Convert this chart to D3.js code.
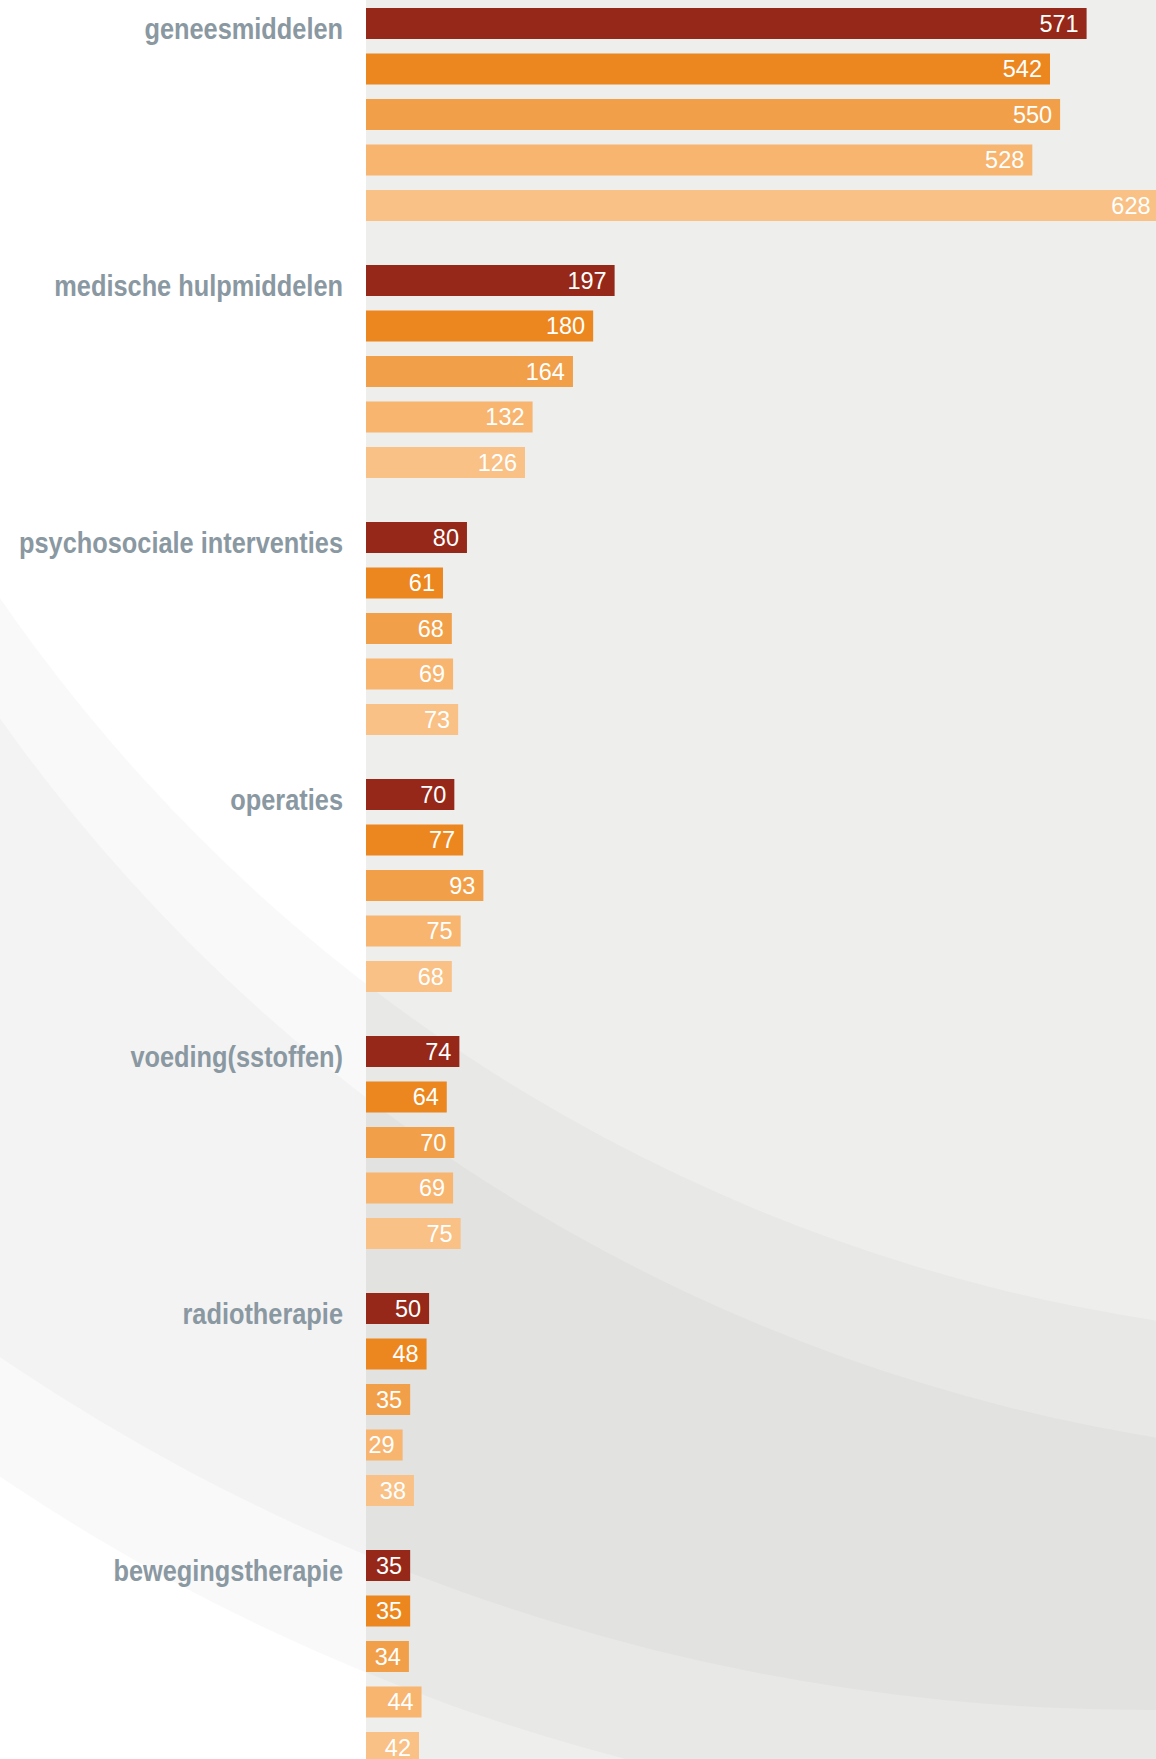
<!DOCTYPE html>
<html>
<head>
<meta charset="utf-8">
<script src="https://cdnjs.cloudflare.com/ajax/libs/d3/7.8.5/d3.min.js"></script>
<style>
  body { margin: 0; background: #fff; }
  svg { display: block; }
</style>
</head>
<body>
<svg id="chart"></svg>
<script>
// categorieen en waarden per reeks (5 reeksen, van donker naar licht)
var categories = ['geneesmiddelen', 'medische hulpmiddelen', 'psychosociale interventies',
  'operaties', 'voeding(sstoffen)', 'radiotherapie', 'bewegingstherapie']

var reeks1 = [571, 197, 80, 70, 74, 50, 35]
var reeks2 = [542, 180, 61, 77, 64, 48, 35]
var reeks3 = [550, 164, 68, 93, 70, 35, 34]
var reeks4 = [528, 132, 69, 75, 69, 29, 44]
var reeks5 = [628, 126, 73, 68, 75, 38, 42]

var series = [reeks1, reeks2, reeks3, reeks4, reeks5]
var colors = ['#952818', '#ec8720', '#f29f49', '#f7b56f', '#f9c185']

var width = 1156
var height = 1759
var left = 366
var squeeze = 0.845   // smalle (condensed) letter van de categorienamen

var svg = d3.select('#chart')
  .attr('width', width)
  .attr('height', height)

// achtergrond: wit links, lichtgrijs achter de balken
svg.append('rect')
  .attr('x', 0).attr('y', 0)
  .attr('width', width).attr('height', height)
  .attr('fill', '#ffffff')
svg.append('rect')
  .attr('x', left).attr('y', 0)
  .attr('width', width - left).attr('height', height)
  .attr('fill', '#eeeeec')

// de zachte bogen op de achtergrond
function ring(outer, inner) {
  var p = d3.path()
  p.moveTo(outer[0] + outer[2], outer[1])
  p.arc(outer[0], outer[1], outer[2], 0, 2 * Math.PI)
  p.moveTo(inner[0] + inner[2], inner[1])
  p.arc(inner[0], inner[1], inner[2], 0, 2 * Math.PI)
  return p.toString()
}

var swoosh = svg.append('g')
swoosh.append('path')
  .attr('d', ring([1134, -201, 2025], [1412, -376, 1715]))
  .attr('fill', '#000')
  .attr('fill-opacity', 0.025)
  .attr('fill-rule', 'evenodd')
swoosh.append('path')
  .attr('d', ring([1144, -321, 2031], [1437, -303, 1763]))
  .attr('fill', '#000')
  .attr('fill-opacity', 0.025)
  .attr('fill-rule', 'evenodd')

// schalen
var x = d3.scaleLinear()
  .domain([0, 630])
  .range([left, left + 630 * 1.262])

var y0 = d3.scaleBand()
  .domain(categories)
  .range([8, 8 + categories.length * 257])

var y1 = d3.scaleBand()
  .domain(d3.range(series.length))
  .range([0, 213])
  .paddingInner(0.319)

var rows = []
categories.forEach(function (c, i) {
  series.forEach(function (s, j) {
    rows.push({ cat: c, idx: j, value: s[i] })
  })
})

var groups = svg.selectAll('g.group')
  .data(categories)
  .enter().append('g')
  .attr('class', 'group')
  .attr('transform', function (d) { return 'translate(0,' + y0(d) + ')' })

groups.append('text')
  .attr('transform', 'translate(' + (left - 23) + ',' + y1.bandwidth() + ') scale(' + squeeze + ',1)')
  .attr('text-anchor', 'end')
  .style('font-family', '"Liberation Sans", Arial, sans-serif')
  .style('font-weight', 'bold')
  .style('font-size', '30px')
  .attr('fill', '#8a98a2')
  .text(function (d) { return d })

var bars = svg.selectAll('g.bar')
  .data(rows)
  .enter().append('g')
  .attr('class', 'bar')
  .attr('transform', function (d) { return 'translate(0,' + (y0(d.cat) + y1(d.idx)) + ')' })

bars.append('rect')
  .attr('x', x(0))
  .attr('y', 0)
  .attr('width', function (d) { return x(d.value) - x(0) })
  .attr('height', y1.bandwidth())
  .attr('fill', function (d) { return colors[d.idx] })

bars.append('text')
  .attr('x', function (d) { return x(d.value) - 8 })
  .attr('y', y1.bandwidth() / 2 + 8.5)
  .attr('text-anchor', 'end')
  .style('font-family', '"Liberation Sans", Arial, sans-serif')
  .style('font-size', '23.5px')
  .attr('fill', '#ffffff')
  .text(function (d) { return d.value })
</script>
</body>
</html>
